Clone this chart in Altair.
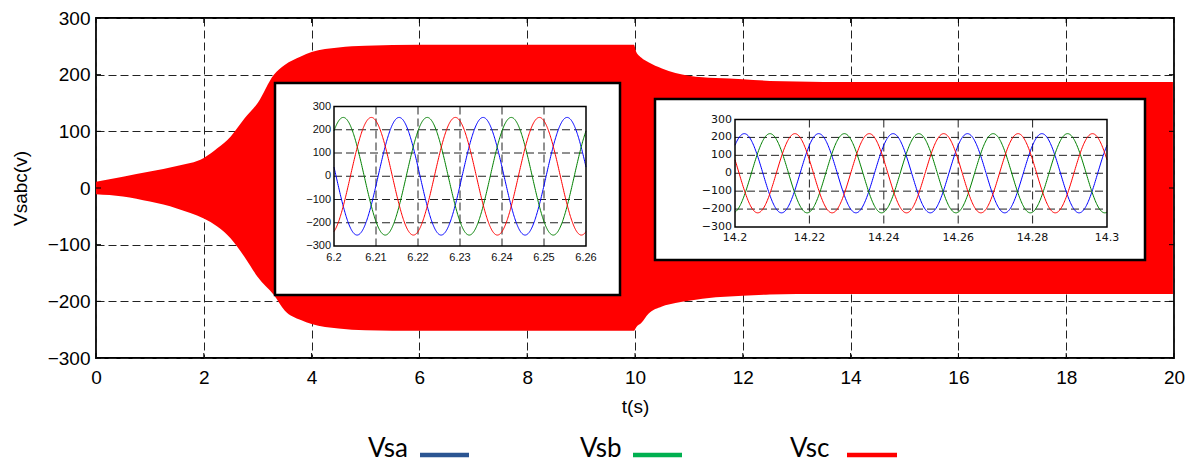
import altair as alt
import numpy as np
import pandas as pd

# ---------------- data ----------------
# envelope of the dense three-phase waveform (main plot)
env_t = [0, 0.5, 1, 1.5, 2, 2.25, 2.5, 2.75, 3, 3.3, 3.5, 3.8, 4, 4.5, 5, 6, 7, 8, 9, 9.98,
         10.02, 10.12, 10.25, 10.5, 10.75, 11, 11.5, 12, 12.5, 13, 14, 16, 18, 19.98]
env_upper = [11, 20, 29, 39, 53, 70, 91, 122, 150, 200, 217, 232, 240, 248, 251, 253, 253, 253, 253, 253,
             241, 230, 222, 211, 203, 198, 194, 192, 189, 188, 187, 187, 187, 187]
env_lower = [-11, -15, -24, -36, -54, -68, -89, -121, -157, -189, -216, -233, -240, -248, -251, -252, -252, -252, -252, -252,
             -246, -238, -222, -209, -203, -199, -193, -190, -188, -187, -187, -187, -187, -187]

main_xticks = [0, 2, 4, 6, 8, 10, 12, 14, 16, 18, 20]
main_yticks = [-300, -200, -100, 0, 100, 200, 300]

series = ["Vsa", "Vsb", "Vsc"]
inset_colors = {"Vsa": "#0000FF", "Vsb": "#008000", "Vsc": "#FF0000"}
legend_colors = {"Vsa": "#2B5592", "Vsb": "#00B050", "Vsc": "#FF0000"}

# inset 1 (zoom around 6.2 s): 50 Hz, amplitude and peak instants
ins1_domain = [6.2, 6.26]
ins1_amp = 253
ins1_freq = 50
ins1_peak = {"Vsa": 6.2155, "Vsb": 6.2022, "Vsc": 6.2089}
ins1_xticks = [6.2, 6.21, 6.22, 6.23, 6.24, 6.25, 6.26]
ins1_xlabels = ["6.2", "6.21", "6.22", "6.23", "6.24", "6.25", "6.26"]

# inset 2 (zoom around 14.2 s)
ins2_domain = [14.2, 14.3]
ins2_amp = 221
ins2_freq = 50
ins2_peak = {"Vsa": 14.2025, "Vsb": 14.2094, "Vsc": 14.2161}
ins2_xticks = [14.2, 14.22, 14.24, 14.26, 14.28, 14.3]
ins2_xlabels = ["14.2", "14.22", "14.24", "14.26", "14.28", "14.3"]

ins_yticks = [-300, -200, -100, 0, 100, 200, 300]
ins_ygrid = [-200, -100, 0, 100, 200]

# ---------------- layout (pixels, relative to plot origin) ----------------
W, H = 1078, 340
FONT = "Liberation Sans"

env_df = pd.DataFrame({"t": env_t, "hi": env_upper, "lo": env_lower})

xs = alt.Scale(domain=[0, 20], nice=False, zero=False)
ys = alt.Scale(domain=[-300, 300], nice=False, zero=False)

area = alt.Chart(env_df).mark_area(color="#FF0000", opacity=1, interpolate="monotone").encode(
    x=alt.X("t:Q", scale=xs, axis=alt.Axis(
        values=main_xticks, title="t(s)", grid=True, gridDash=[8, 4], gridColor="#222",
        gridWidth=1, ticks=False, domain=False, labelFont=FONT, labelFontSize=19,
        labelColor="black", labelPadding=10, labelFlush=False, titleFont=FONT, titleFontSize=19,
        titleFontWeight="normal", titleColor="black", titlePadding=10)),
    y=alt.Y("hi:Q", scale=ys, axis=alt.Axis(
        values=main_yticks, title="Vsabc(v)", grid=True, gridDash=[8, 4], gridColor="#222",
        gridWidth=1, ticks=False, domain=False, labelFont=FONT, labelFontSize=19,
        labelColor="black", labelPadding=6, labelFlush=False, titleFont=FONT, titleFontSize=19,
        titleFontWeight="normal", titleColor="black", titlePadding=17)),
    y2="lo:Q",
)

xt_df = pd.DataFrame({"v": main_xticks})
yt_df = pd.DataFrame({"v": main_yticks})
tick_b = alt.Chart(xt_df).mark_rule(color="black", strokeWidth=1).encode(
    x=alt.X("v:Q", scale=xs), y=alt.value(H), y2=alt.value(H - 5))
tick_t = alt.Chart(xt_df).mark_rule(color="black", strokeWidth=1).encode(
    x=alt.X("v:Q", scale=xs), y=alt.value(0), y2=alt.value(5))
tick_l = alt.Chart(yt_df).mark_rule(color="black", strokeWidth=1).encode(
    y=alt.Y("v:Q", scale=ys), x=alt.value(0), x2=alt.value(5))
tick_r = alt.Chart(yt_df).mark_rule(color="black", strokeWidth=1).encode(
    y=alt.Y("v:Q", scale=ys), x=alt.value(W), x2=alt.value(W - 5))

main = alt.layer(area, tick_b, tick_t, tick_l, tick_r)


def make_inset(domain, amp, freq, peaks, xticks, xlabels, outer, plot, lab_dy, font, fsize):
    x0, y0, x1, y1 = outer
    px0, py0, px1, py1 = plot
    t = np.linspace(domain[0], domain[1], 600)
    rows = []
    for s in series:
        v = amp * np.cos(2 * np.pi * freq * (t - peaks[s]))
        rows.append(pd.DataFrame({"t": t, "v": v, "s": s}))
    wave_df = pd.concat(rows, ignore_index=True)

    sx = alt.Scale(domain=domain, range=[px0, px1], nice=False, zero=False)
    sy = alt.Scale(domain=[-300, 300], range=[py1, py0], nice=False, zero=False)
    one = alt.Data(values=[{}])

    box = alt.Chart(one).mark_rect(fill="white", stroke="black", strokeWidth=2.5).encode(
        x=alt.value(x0), x2=alt.value(x1), y=alt.value(y0), y2=alt.value(y1))
    vgrid = alt.Chart(pd.DataFrame({"g": xticks[1:-1]})).mark_rule(
        color="#222", strokeDash=[8, 4], strokeWidth=1).encode(
        x=alt.X("g:Q", scale=sx, axis=None), y=alt.value(py0), y2=alt.value(py1))
    hgrid = alt.Chart(pd.DataFrame({"g": ins_ygrid})).mark_rule(
        color="#222", strokeDash=[8, 4], strokeWidth=1).encode(
        y=alt.Y("g:Q", scale=sy, axis=None), x=alt.value(px0), x2=alt.value(px1))
    waves = alt.Chart(wave_df).mark_line(strokeWidth=1).encode(
        x=alt.X("t:Q", scale=sx, axis=None),
        y=alt.Y("v:Q", scale=sy, axis=None),
        color=alt.Color("s:N", scale=alt.Scale(domain=series,
                                               range=[inset_colors[s] for s in series]),
                        legend=None),
        detail="s:N",
    )
    frame = alt.Chart(one).mark_rect(fill=None, stroke="black", strokeWidth=1.5).encode(
        x=alt.value(px0), x2=alt.value(px1), y=alt.value(py0), y2=alt.value(py1))
    xlab = alt.Chart(pd.DataFrame({"v": xticks, "l": xlabels})).mark_text(
        font=font, fontSize=fsize, color="#111", baseline="middle", align="center").encode(
        x=alt.X("v:Q", scale=sx, axis=None), y=alt.value(py1 + lab_dy), text="l:N")
    ylab = alt.Chart(pd.DataFrame({"v": ins_yticks})).mark_text(
        font=font, fontSize=fsize, color="#111", baseline="middle", align="right").encode(
        y=alt.Y("v:Q", scale=sy, axis=None), x=alt.value(px0 - 3), text="v:Q")
    return alt.layer(box, vgrid, hgrid, waves, frame, xlab, ylab)


ins1 = make_inset(ins1_domain, ins1_amp, ins1_freq, ins1_peak, ins1_xticks, ins1_xlabels,
                  outer=(179, 65, 524, 277), plot=(238, 88.5, 490, 228), lab_dy=12,
                  font=FONT, fsize=11)
ins2 = make_inset(ins2_domain, ins2_amp, ins2_freq, ins2_peak, ins2_xticks, ins2_xlabels,
                  outer=(559, 81, 1049, 242), plot=(639, 101.5, 1011, 209), lab_dy=11,
                  font="DejaVu Sans", fsize=11)

# legend (label followed by a line sample)
leg_text_x = {"Vsa": 272, "Vsb": 484, "Vsc": 694}
leg_line_x = {"Vsa": (324, 373), "Vsb": (537, 586), "Vsc": (751, 801)}
leg_layers = []
for s in series:
    leg_layers.append(alt.Chart(alt.Data(values=[{"l": s}])).mark_text(
        font="Lato", fontSize=26, color="black", align="left", baseline="alphabetic").encode(
        x=alt.value(leg_text_x[s]), y=alt.value(439), text="l:N"))
    leg_layers.append(alt.Chart(alt.Data(values=[{"l": s}])).mark_rule(
        color=legend_colors[s], strokeWidth=4.5).encode(
        x=alt.value(leg_line_x[s][0]), x2=alt.value(leg_line_x[s][1]), y=alt.value(437)))

chart = alt.layer(main, ins1, ins2, *leg_layers).resolve_scale(
    x="independent", y="independent", color="independent"
).properties(
    width=W, height=H, padding={"left": 88, "top": 10, "right": 13, "bottom": 108},
    autosize=alt.AutoSizeParams(type="none"),
    background="white",
).configure_view(stroke="black", strokeWidth=1.8)

chart.save("out.html", embed_options={"renderer": "svg", "actions": False})
